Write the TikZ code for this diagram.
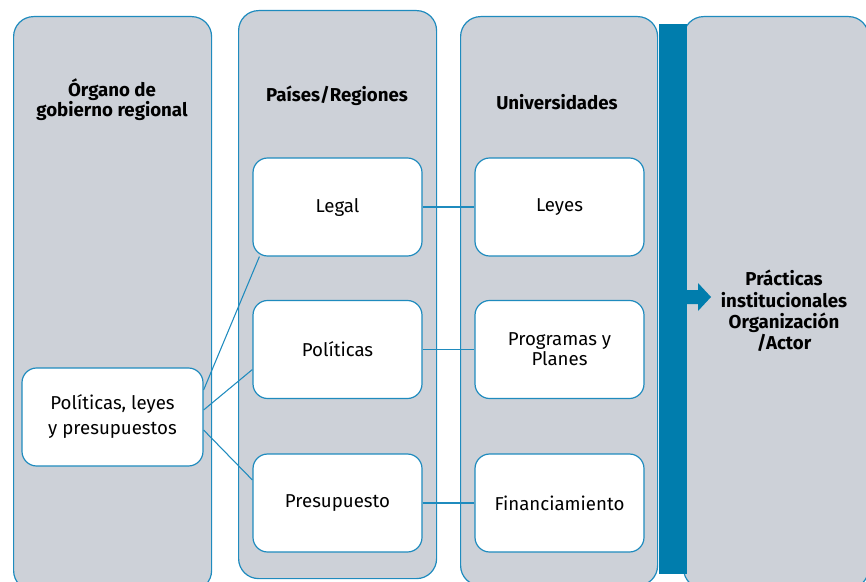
\documentclass[tikz,border=0pt]{standalone}
\usepackage{fontspec}
\setmainfont{Fira Sans}
\usetikzlibrary{calc}
\definecolor{colgray}{HTML}{CDD1D8}
\definecolor{edgeblue}{HTML}{1F8BBE}
\definecolor{barblue}{HTML}{007DAD}
\tikzset{
  column/.style={draw=edgeblue, fill=colgray, line width=0.9pt, rounded corners=15pt, anchor=north west, inner sep=0pt},
  innerbox/.style={draw=edgeblue, fill=white, line width=0.9pt, rounded corners=11pt, inner sep=0pt,
     minimum width=126.75pt, minimum height=73.5pt, align=center, font=\fontsize{14}{15}\selectfont},
  header/.style={align=center, font=\fontsize{14}{15}\selectfont\bfseries, text=black},
  conn/.style={draw=edgeblue, line width=0.8pt},
}
\begin{document}
\begin{tikzpicture}[x=0.75pt,y=-0.75pt]
\useasboundingbox (0,0) rectangle (866,581);
\clip (0,0) rectangle (866,581);
% columns
\node[column, minimum width=148.5pt, minimum height=430.5pt] (c1) at (13,16) {};
\node[column, minimum width=148.5pt, minimum height=426pt] (c2) at (238,10) {};
\node[column, minimum width=147.75pt, minimum height=426.75pt] (c3) at (460,16) {};
\node[column, minimum width=138.75pt, minimum height=429pt] (c4) at (683,16) {};
% bar with arrow
\fill[barblue] (659,24) rectangle (687,574);
\fill[barblue] (686,290) -- (698,290) -- (698,283) -- (711,297) -- (698,311) -- (698,304) -- (686,304) -- cycle;
% headers
\node[header] (h1) at (112,100) {Órgano de\\gobierno regional};
\node[header] (h2) at (337,96) {Países/Regiones};
\node[header] (h3) at (557,102) {Universidades};
\node[header, font=\fontsize{14}{16}\selectfont\bfseries] (h4) at (784,311) {Prácticas\\institucionales\\ Organización\\/Actor};
% inner boxes
\node[innerbox] (legal) at (337.5,207) {\raisebox{-2pt}{Legal}};
\node[innerbox] (pol) at (337.5,349.5) {Políticas};
\node[innerbox] (pre) at (337.5,503) {Presupuesto};
\node[innerbox] (ley) at (559.5,207) {\raisebox{-2pt}{Leyes}};
\node[innerbox] (prog) at (559.5,349.5) {\raisebox{0pt}{Programas y}\\Planes};
\node[innerbox] (fin) at (559.5,503) {Financiamiento};
\node[innerbox, minimum width=135.75pt, font=\fontsize{14}{18.75}\selectfont] (pl) at (112.5,417) {Políticas, leyes\\y presupuestos};
% connectors
\draw[conn] ($(pl.east)+(0,-27)$) -- ($(legal.south west)+(7,0)$);
\draw[conn] ($(pl.east)+(0,-7)$) -- ($(pol.west)+(0,20)$);
\draw[conn] ($(pl.east)+(0,13)$) -- ($(pre.west)+(0,-23)$);
\draw[conn] (legal.east) -- (ley.west);
\draw[conn] (pol.east) -- (prog.west);
\draw[conn] (pre.east) -- (fin.west);
\end{tikzpicture}
\end{document}
